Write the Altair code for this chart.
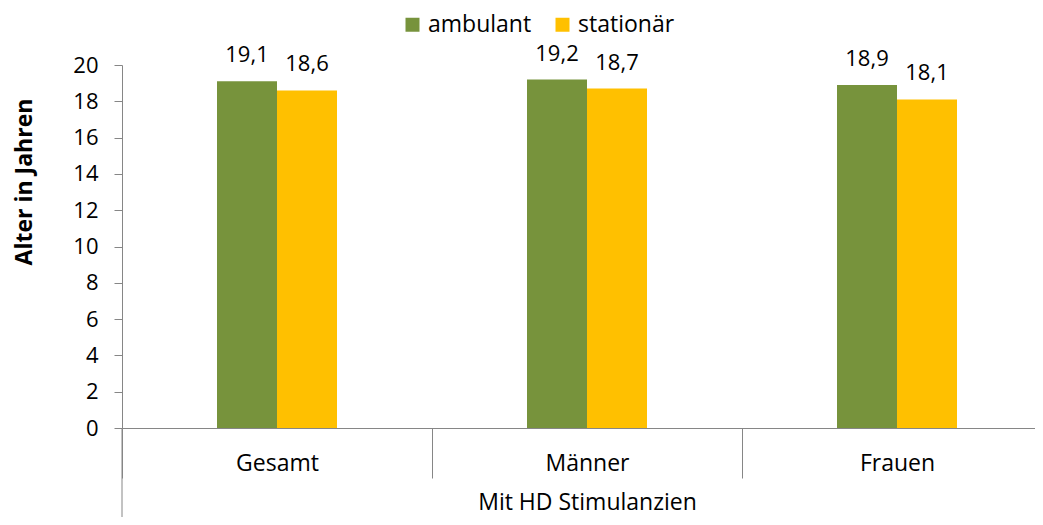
import altair as alt
import pandas as pd

# ---- data ----
categories = ["Gesamt", "Männer", "Frauen"]
series = ["ambulant", "stationär"]
ambulant = [19.1, 19.2, 18.9]
stationaer = [18.6, 18.7, 18.1]
y_ticks = [0, 2, 4, 6, 8, 10, 12, 14, 16, 18, 20]
colors = ["#77933C", "#FFC000"]

rows = []
for i, c in enumerate(categories):
    for s, vals in zip(series, [ambulant, stationaer]):
        v = vals[i]
        rows.append({"Kategorie": c, "Serie": s, "Wert": v,
                     "Label": f"{v:.1f}".replace(".", ",")})
df = pd.DataFrame(rows)

W, H = 913, 363
FULL = 930
FONT = "Open Sans"
GRAY = "#868686"
FS = 22
FS_TXT = 23

x_enc = alt.X(
    "Kategorie:N", sort=categories,
    scale=alt.Scale(range=[0, FULL], paddingInner=0, paddingOuter=0),
    axis=alt.Axis(
        title="Mit HD Stimulanzien", labelAngle=0, tickBand="extent",
        tickSize=50, tickColor=GRAY, domainColor=GRAY,
        labelBaseline="alphabetic", labelPadding=-8, labelFontSize=FS_TXT,
        labelFont=FONT, labelColor="black",
        titleFont=FONT, titleFontSize=FS_TXT, titleFontWeight="normal",
        titleX=FULL / 2, titleY=81, titleBaseline="alphabetic",
        titleAlign="center", titleColor="black",
    ),
)
xoff = alt.XOffset("Serie:N", sort=series,
                   scale=alt.Scale(range=[95, 215], paddingInner=0, paddingOuter=0))
y_enc = alt.Y(
    "Wert:Q", scale=alt.Scale(domain=[0, 20], nice=False),
    axis=alt.Axis(
        values=y_ticks, tickCount=11, grid=False, title="Alter in Jahren",
        labelOverlap=False,
        tickSize=8, tickColor=GRAY, domainColor=GRAY,
        labelFontSize=FS, labelFont=FONT, labelColor="black", labelPadding=16,
        titleFont=FONT, titleFontSize=FS_TXT, titleFontWeight="bold",
        titleColor="black", titleAngle=270, titleX=-98, titleY=116.5,
        titleAlign="center", titleBaseline="middle",
    ),
)
color_enc = alt.Color(
    "Serie:N", sort=series,
    scale=alt.Scale(domain=series, range=colors),
    legend=alt.Legend(
        title=None, orient="none", legendX=279, legendY=-52,
        direction="horizontal", symbolType="square", symbolSize=196,
        symbolStrokeWidth=0, labelFontSize=FS_TXT, labelFont=FONT,
        labelColor="black", labelOffset=4, columnPadding=19, padding=0,
    ),
)

base = alt.Chart(df)
bars = base.mark_bar().encode(x=x_enc, xOffset=xoff, y=y_enc, color=color_enc)
labels = base.mark_text(dy=-19, baseline="alphabetic", fontSize=FS,
                        font=FONT, color="black").encode(
    x=x_enc,
    xOffset=xoff,
    y=y_enc,
    text="Label:N",
)
rule = alt.Chart(pd.DataFrame({"a": [0]})).mark_rule(color=GRAY).encode(
    x=alt.value(0), y=alt.value(H), y2=alt.value(H + 89)
)

chart = alt.layer(bars, labels, rule).properties(
    width=W, height=H,
    padding={"left": 114, "top": 57, "right": 0, "bottom": 89},
    autosize=alt.AutoSizeParams(type="none"),
).configure_view(stroke=None)

chart.save("out.html", embed_options={"renderer": "svg", "actions": False})
